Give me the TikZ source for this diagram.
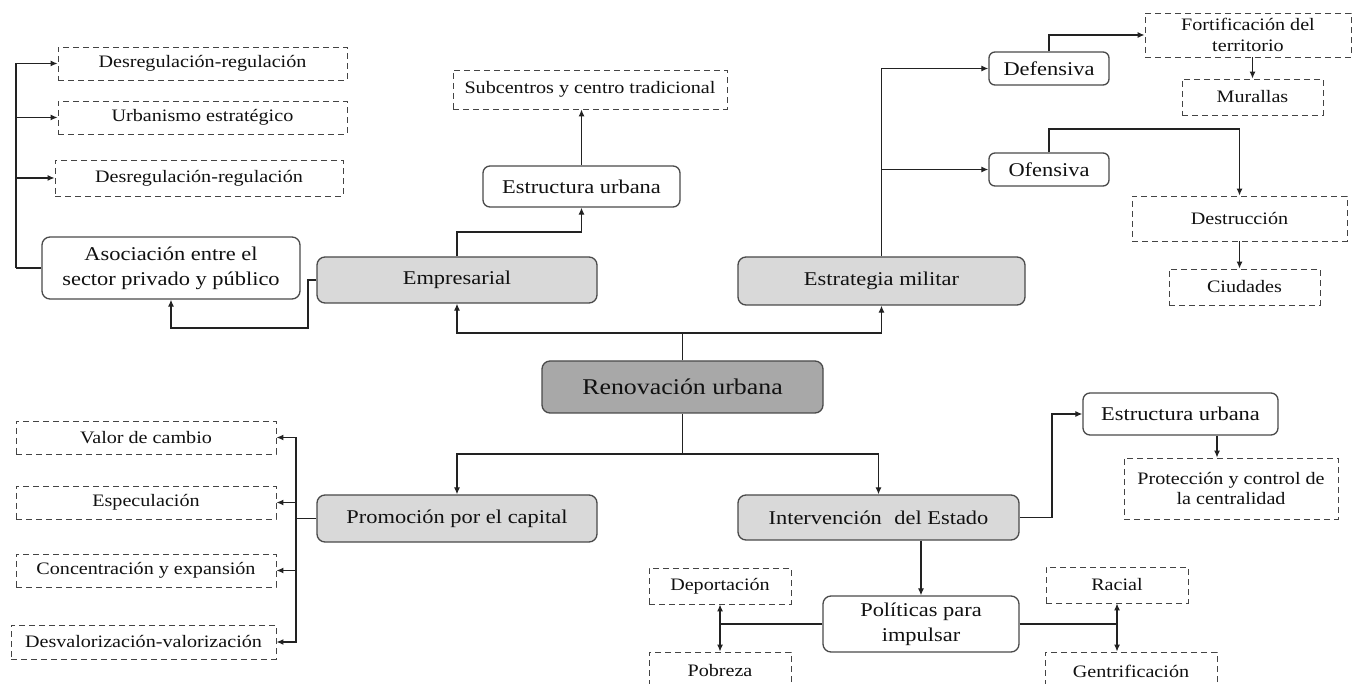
\documentclass[tikz,border=0pt]{standalone}
\usepackage{fontspec}
\setmainfont[FakeStretch=1.15]{Liberation Serif}
\usetikzlibrary{arrows.meta,calc}
\definecolor{lg}{HTML}{D9D9D9}
\definecolor{dg}{HTML}{A8A8A8}
\definecolor{ln}{HTML}{222222}
\definecolor{dl}{HTML}{444444}
\definecolor{bd}{HTML}{4A4A4A}
\definecolor{tx}{HTML}{111111}
\begin{document}
\begin{tikzpicture}[x=1pt,y=-1pt,
 base/.style={inner sep=0pt, align=center, text=tx},
 dbox/.style={base, draw=dl, line width=0.9pt, dash pattern=on 6pt off 4pt, font=\fontsize{17.5}{20.5}\selectfont},
 rbox/.style={base, draw=bd, line width=1.3pt, rounded corners=8pt, fill=white, font=\fontsize{19.5}{25}\selectfont},
 gbox/.style={rbox, fill=lg},
 mbox/.style={rbox, fill=dg, font=\fontsize{22.5}{26}\selectfont},
 con/.style={draw=ln, line width=1.2pt},
 arr/.style={con, -{Latex[length=7pt,width=6pt]}},
 darr/.style={con, {Latex[length=7pt,width=6pt]}-{Latex[length=7pt,width=6pt]}},
]
\useasboundingbox (0,0) rectangle (1353,684);
\fill[white] (0,0) rectangle (1353,684);
\clip (0,0) rectangle (1353,684);

% top-left
\node[dbox, minimum width=289pt, minimum height=33pt] (d1) at (202.5,63.5) {Desregulación-regulación};
\node[dbox, minimum width=289pt, minimum height=33pt] (d2) at (202.5,117.5) {Urbanismo estratégico};
\node[dbox, minimum width=288pt, minimum height=36pt] (d3) at (199,178) {Desregulación-regulación};
\node[rbox, minimum width=258pt, minimum height=62pt] (aso) at (171,268) {Asociación entre el\\sector privado y público};

% empresarial branch
\node[gbox, minimum width=280pt, minimum height=46pt] (emp) at (457,280) {Empresarial};
\node[rbox, rounded corners=7pt, minimum width=197pt, minimum height=41pt] (eu1) at (581.5,186.5) {Estructura urbana};
\node[dbox, minimum width=274pt, minimum height=39pt] (sub) at (590,89.5) {Subcentros y centro tradicional};

% militar branch
\node[gbox, minimum width=287pt, minimum height=48pt] (mil) at (881.5,281) {Estrategia militar};
\node[rbox, rounded corners=6pt, minimum width=120pt, minimum height=33pt] (def) at (1049,68.5) {Defensiva};
\node[rbox, rounded corners=6pt, minimum width=120pt, minimum height=33pt] (ofe) at (1049,169.5) {Ofensiva};
\node[dbox, minimum width=206pt, minimum height=44pt] (fort) at (1248,35) {Fortificación del\\territorio};
\node[dbox, minimum width=141pt, minimum height=36pt] (mur) at (1252.5,97) {Murallas};
\node[dbox, minimum width=215pt, minimum height=45pt] (des) at (1239.5,218.5) {Destrucción};
\node[dbox, minimum width=151pt, minimum height=36pt] (ciu) at (1244.5,287) {Ciudades};

% centre
\node[mbox, minimum width=281pt, minimum height=52pt] (ren) at (682.5,387) {Renovación urbana};
\node[gbox, minimum width=280pt, minimum height=47pt] (pro) at (457,518.5) {Promoción por el capital};
\node[gbox, minimum width=281pt, minimum height=45pt] (int) at (878.5,517.5) {Intervención\hspace{0.35em} del Estado};

% bottom-left
\node[dbox, minimum width=260pt, minimum height=33pt] (v1) at (146,437.5) {Valor de cambio};
\node[dbox, minimum width=260pt, minimum height=33pt] (v2) at (146,502.5) {Especulación};
\node[dbox, minimum width=260pt, minimum height=33pt] (v3) at (146,570.5) {Concentración y expansión};
\node[dbox, minimum width=265pt, minimum height=34pt] (v4) at (143.5,642) {Desvalorización-valorización};

% right of intervención
\node[rbox, rounded corners=7pt, minimum width=195pt, minimum height=42pt] (eu2) at (1180.5,414) {Estructura urbana};
\node[dbox, minimum width=214pt, minimum height=61pt] (prot) at (1231,488.5) {Protección y control de\\la centralidad};

% bottom
\node[rbox, minimum width=196pt, minimum height=56pt] (pol) at (921,624) {Políticas para\\impulsar};
\node[dbox, minimum width=142pt, minimum height=36pt] (dep) at (720,586) {Deportación};
\node[dbox, minimum width=142pt, minimum height=38pt] (pob) at (720,671) {Pobreza};
\node[dbox, minimum width=142pt, minimum height=36pt] (rac) at (1117,585) {Racial};
\node[dbox, minimum width=172pt, minimum height=38pt] (gen) at (1131,671) {Gentrificación};

% helper coordinates
\coordinate (tl) at (16,268);
\coordinate (bl) at (296,518.5);
\coordinate (jt) at (682.5,333);
\coordinate (jb) at (682.5,454);
\coordinate (ea) at (457,232);
\coordinate (ew1) at (308,280);
\coordinate (ew2) at (308,328);
\coordinate (oa) at (1049,129);
\coordinate (ir) at (1052,517.5);

% connectors top-left
\draw[con] (aso.west) -- (tl);
\draw[arr] (tl) |- (d1.west);
\draw[arr] (tl) |- (d2.west);
\draw[arr] (tl) |- (d3.west);

% empresarial
\draw[arr] (emp.north) -- (ea) -| (eu1.south);
\draw[arr] (eu1.north) -- (eu1.north |- sub.south);
\draw[arr] (emp.west) -- (ew1) -- (ew2) -| (aso.south);

% centre
\draw[con] (ren.north) -- (jt);
\draw[arr] (jt) -| (emp.south);
\draw[arr] (jt) -| (mil.south);
\draw[con] (ren.south) -- (jb);
\draw[arr] (jb) -| (pro.north);
\draw[arr] (jb) -| (int.north);

% militar
\draw[arr] (mil.north) |- (def.west);
\draw[arr] (mil.north |- ofe.west) -- (ofe.west);
\draw[arr] (def.north) |- (fort.west);
\draw[arr] (mur.north |- fort.south) -- (mur.north);
\draw[arr] (ofe.north) -- (oa) -| (des.north);
\draw[arr] (des.south) -- (des.south |- ciu.north);

% promoción
\draw[con] (pro.west) -- (bl);
\draw[arr] (bl) |- (v1.east);
\draw[arr] (bl) |- (v2.east);
\draw[arr] (bl) |- (v3.east);
\draw[arr] (bl) |- (v4.east);

% intervención
\draw[arr] (int.east) -- (ir) |- (eu2.west);
\draw[arr] ([xshift=36.5pt]eu2.south) -- ([xshift=-14pt]prot.north);
\draw[arr] (int.south -| pol.north) -- (pol.north);
\draw[con] (pol.west) -- (dep.south |- pol.west);
\draw[darr] (dep.south) -- (pob.north);
\draw[con] (pol.east) -- (rac.south |- pol.east);
\draw[darr] (rac.south) -- (rac.south |- gen.north);
\end{tikzpicture}
\end{document}
